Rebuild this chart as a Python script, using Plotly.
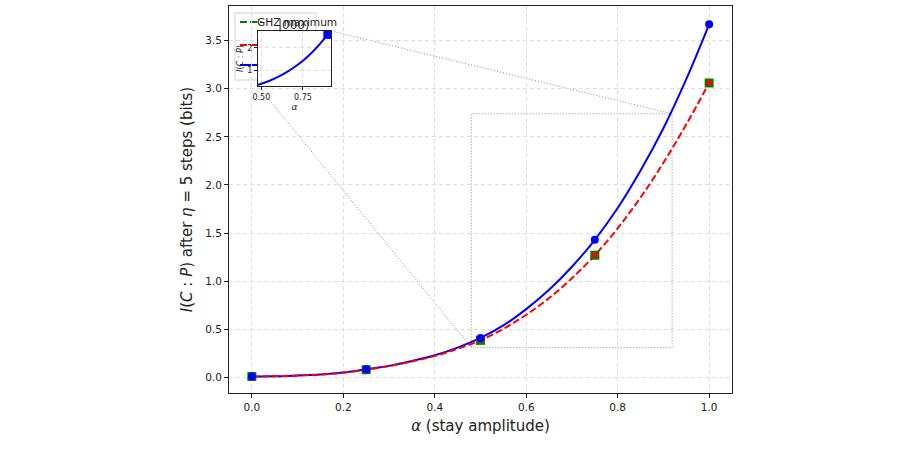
import plotly.graph_objects as go

# ---------------- data ----------------
alpha_pts = [0.0, 0.25, 0.5, 0.75, 1.0]
blue_pts = [0.01, 0.085, 0.41, 1.43, 3.67]
red_pts = [0.01, 0.08, 0.385, 1.27, 3.06]
ghz_pts = [0.01, 0.08, 0.385, 1.27, 3.06]

alpha_curve = [0.0, 0.05, 0.10, 0.15, 0.20, 0.25, 0.30, 0.35, 0.40, 0.45, 0.50,
               0.55, 0.60, 0.65, 0.70, 0.75, 0.80, 0.85, 0.90, 0.95, 1.0]
blue_curve = [0.01, 0.012, 0.02, 0.03, 0.05, 0.085, 0.12, 0.17, 0.23, 0.31, 0.41,
              0.54, 0.71, 0.91, 1.15, 1.43, 1.76, 2.15, 2.59, 3.10, 3.67]
red_curve = [0.01, 0.012, 0.02, 0.03, 0.049, 0.08, 0.118, 0.166, 0.223, 0.297, 0.385,
             0.505, 0.651, 0.825, 1.031, 1.27, 1.55, 1.87, 2.23, 2.63, 3.06]

inset_marker_alpha = [0.9]
inset_marker_val = [2.59]

zoom_box_x = [0.48, 0.919]
zoom_box_y = [0.31, 2.74]

x_ticks = [0.0, 0.2, 0.4, 0.6, 0.8, 1.0]
x_ticklabels = ["0.0", "0.2", "0.4", "0.6", "0.8", "1.0"]
y_ticks = [0.0, 0.5, 1.0, 1.5, 2.0, 2.5, 3.0, 3.5]
y_ticklabels = ["0.0", "0.5", "1.0", "1.5", "2.0", "2.5", "3.0", "3.5"]
inset_x_ticks = [0.5, 0.75]
inset_x_ticklabels = ["0.50", "0.75"]
inset_y_ticks = [1, 2]
inset_y_ticklabels = ["1", "2"]

# ---------------- layout geometry (pixels) ----------------
W, H = 916, 463
L, R, T, B = 229, 732, 6, 393
XR = [-0.05, 1.05]
YR = [-0.162, 3.86]
FONT = "DejaVu Sans"


def px(xp):
    return (xp - L) / (R - L)


def py(yp):
    return (B - yp) / (B - T)


inset_dom_x = [px(258), px(331)]
inset_dom_y = [py(86), py(31)]

fig = go.Figure()

# main curves
fig.add_trace(go.Scatter(x=alpha_curve, y=blue_curve, mode="lines", line=dict(color="#0000ff", width=2, shape="spline"),
                         showlegend=False, xaxis="x", yaxis="y"))
fig.add_trace(go.Scatter(x=alpha_curve, y=red_curve, mode="lines",
                         line=dict(color="#ff0000", width=2, dash="7px,3px", shape="spline"),
                         showlegend=False, xaxis="x", yaxis="y"))
fig.add_trace(go.Scatter(x=alpha_pts, y=ghz_pts, mode="markers",
                         marker=dict(symbol="square", size=9, color="#008000"), showlegend=False))
fig.add_trace(go.Scatter(x=alpha_pts, y=red_pts, mode="markers",
                         marker=dict(symbol="triangle-up", size=8, color="#ff0000"), showlegend=False))
fig.add_trace(go.Scatter(x=alpha_pts, y=blue_pts, mode="markers",
                         marker=dict(symbol="circle", size=8, color="#0000ff"), showlegend=False))

# inset
fig.add_trace(go.Scatter(x=alpha_curve, y=blue_curve, mode="lines", line=dict(color="#0000ff", width=2, shape="spline"),
                         showlegend=False, xaxis="x2", yaxis="y2"))
fig.add_trace(go.Scatter(x=inset_marker_alpha, y=inset_marker_val, mode="markers",
                         marker=dict(symbol="square", size=9, color="#0000ff"),
                         showlegend=False, xaxis="x2", yaxis="y2"))

axis_common = dict(showline=True, mirror=True, linecolor="#222", linewidth=1, ticks="outside",
                   tickcolor="#222", showgrid=True, gridcolor="#dedede", griddash="4px,3px",
                   gridwidth=1, zeroline=False)

fig.update_layout(
    width=W, height=H, autosize=False,
    margin=dict(l=L, r=W - R, t=T, b=H - B, pad=0),
    paper_bgcolor="white", plot_bgcolor="white",
    font=dict(family=FONT, color="#222"),
    xaxis=dict(domain=[0, 1], range=XR, tickvals=x_ticks, ticktext=x_ticklabels, ticklen=4,
               tickfont=dict(size=10.5), anchor="y",
               title=dict(text="<i>α</i> (stay amplitude)", font=dict(size=15), standoff=8),
               **axis_common),
    yaxis=dict(domain=[0, 1], range=YR, tickvals=y_ticks, ticktext=y_ticklabels, ticklen=4,
               tickfont=dict(size=10.5), anchor="x",
               title=dict(text="<i>I</i>(<i>C</i> : <i>P</i>) after <i>η</i> = 5 steps (bits)",
                          font=dict(size=15), standoff=8),
               **axis_common),
    xaxis2=dict(domain=inset_dom_x, range=[zoom_box_x[0], zoom_box_x[1]], anchor="y2",
                tickvals=inset_x_ticks, ticktext=inset_x_ticklabels, ticklen=3,
                tickfont=dict(size=8), title=dict(text="<i>α</i>", font=dict(size=9), standoff=2),
                **axis_common),
    yaxis2=dict(domain=inset_dom_y, range=[zoom_box_y[0], zoom_box_y[1]], anchor="x2",
                tickvals=inset_y_ticks, ticktext=inset_y_ticklabels, ticklen=3,
                tickfont=dict(size=8), title=dict(text="<i>I</i>(<i>C</i> : <i>P</i>)", font=dict(size=8), standoff=2),
                **axis_common),
)

# zoom rectangle on the main axes
fig.add_shape(type="rect", xref="x", yref="y", x0=zoom_box_x[0], x1=zoom_box_x[1],
              y0=zoom_box_y[0], y1=zoom_box_y[1], line=dict(color="#888", width=1, dash="1px,2px"),
              layer="below")


# connectors (inset corners -> rectangle corners), expressed in main-axis coords
def paper_to_x(f):
    return XR[0] + f * (XR[1] - XR[0])


def paper_to_y(f):
    return YR[0] + f * (YR[1] - YR[0])


fig.add_shape(type="line", xref="x", yref="y",
              x0=paper_to_x(inset_dom_x[1]), y0=paper_to_y(inset_dom_y[1]),
              x1=zoom_box_x[1], y1=zoom_box_y[1],
              line=dict(color="#888", width=1, dash="1px,2px"), layer="below")
fig.add_shape(type="line", xref="x", yref="y",
              x0=paper_to_x(inset_dom_x[0]), y0=paper_to_y(inset_dom_y[0]),
              x1=zoom_box_x[0], y1=zoom_box_y[0],
              line=dict(color="#888", width=1, dash="1px,2px"), layer="below")

# legend (drawn manually so that the inset covers it)
fig.add_shape(type="rect", xref="paper", yref="paper", x0=px(235), x1=px(316), y0=py(80), y1=py(13),
              line=dict(color="#d0d0d0", width=1), fillcolor="rgba(255,255,255,0.85)", layer="below")
fig.add_shape(type="line", xref="paper", yref="paper", x0=px(240), x1=px(262), y0=py(22), y1=py(22),
              line=dict(color="#008000", width=2, dash="7px,3px"), layer="below")
fig.add_shape(type="line", xref="paper", yref="paper", x0=px(240), x1=px(262), y0=py(45), y1=py(45),
              line=dict(color="#ff0000", width=2, dash="7px,3px"), layer="below")
fig.add_shape(type="line", xref="paper", yref="paper", x0=px(240), x1=px(262), y0=py(65), y1=py(65),
              line=dict(color="#0000ff", width=2), layer="below")
fig.add_annotation(xref="paper", yref="paper", x=px(255), y=py(21.5), text="GHZ maximum", showarrow=False,
                   xanchor="left", yanchor="middle", font=dict(size=10.6, color="#222", family=FONT))

# inset title
fig.add_annotation(xref="paper", yref="paper", x=px(294), y=py(25), text="|000⟩", showarrow=False,
                   xanchor="center", yanchor="middle", font=dict(size=12, color="#222", family=FONT))

fig.write_html("out.html")
